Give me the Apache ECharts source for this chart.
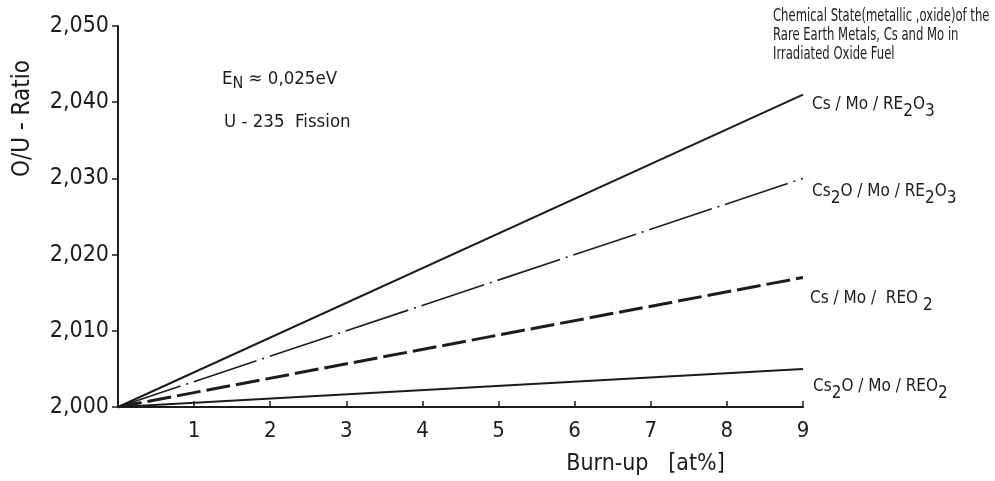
<!DOCTYPE html>
<html>
<head>
<meta charset="utf-8">
<script src="https://cdn.jsdelivr.net/npm/echarts@6/dist/echarts.min.js"></script>
<style>
  html, body { margin: 0; padding: 0; background: #fff; }
  #chart { width: 995px; height: 481px; }
</style>
</head>
<body>
<div id="chart"></div>
<script>
// Burn-up in at% (x) and the O/U ratio reached for each chemical state assumption
const burnup = [0, 9];
const csMoRE2O3 = [2.000, 2.041];
const cs2oMoRE2O3 = [2.000, 2.030];
const csMoREO2 = [2.000, 2.017];
const cs2oMoREO2 = [2.000, 2.005];

// Curve labels in rich-text form (subscripts handled by the "sub" style)
const seriesLabels = [
  '{n|Cs / Mo / RE}{sub|2}{n|O}{sub|3}',
  '{n|Cs}{sub|2}{n|O / Mo / RE}{sub|2}{n|O}{sub|3}',
  '{n|Cs / Mo /  REO }{sub|2}',
  '{n|Cs}{sub|2}{n|O / Mo / REO}{sub|2}'
];

const xTicks = [1, 2, 3, 4, 5, 6, 7, 8, 9];

const FONT = "'DejaVu Sans Condensed', 'Liberation Sans Narrow', 'DejaVu Sans', sans-serif";
const INK = '#1c1c1c';

const richStyles = {
  n: { fontFamily: FONT, fontSize: 17, color: INK },
  sub: { fontFamily: FONT, fontSize: 17, color: INK, padding: [14, 0, 0, 0] }
};

function pairs(ys) {
  return burnup.map((x, i) => [x, ys[i]]);
}

function lineSeries(name, ys, label, style, offset) {
  return {
    name: name,
    type: 'line',
    data: pairs(ys),
    symbol: 'none',
    silent: true,
    lineStyle: Object.assign({ color: INK, width: 2 }, style),
    endLabel: {
      show: true,
      formatter: () => label,
      offset: offset,
      rich: richStyles
    }
  };
}

const chart = echarts.init(document.getElementById('chart'), null, { renderer: 'canvas' });

chart.setOption({
  animation: false,
  backgroundColor: '#ffffff',
  grid: { left: 118, right: 192, top: 26, bottom: 73, containLabel: false },
  xAxis: {
    type: 'value',
    min: 0,
    max: 9,
    interval: 1,
    name: 'Burn-up   [at%]',
    nameLocation: 'middle',
    nameGap: 46,
    nameTextStyle: { fontFamily: FONT, fontSize: 23, color: INK, padding: [0, 0, 0, 370] },
    axisLine: { show: true, lineStyle: { color: INK, width: 2 } },
    axisTick: { show: true, inside: true, length: 6, lineStyle: { color: INK, width: 1.5 } },
    axisLabel: {
      fontFamily: FONT, fontSize: 22, color: INK, margin: 13,
      formatter: v => (xTicks.indexOf(v) >= 0 ? String(v) : '')
    },
    splitLine: { show: false }
  },
  yAxis: {
    type: 'value',
    min: 2.000,
    max: 2.050,
    interval: 0.01,
    name: 'O/U - Ratio',
    nameLocation: 'middle',
    nameRotate: 90,
    nameGap: 95,
    nameTextStyle: { fontFamily: FONT, fontSize: 24, color: INK, padding: [0, 0, 0, 196], align: 'center', verticalAlign: 'middle' },
    axisLine: { show: true, onZero: false, lineStyle: { color: INK, width: 2 } },
    axisTick: { show: true, inside: false, length: 6, lineStyle: { color: INK, width: 1.5 } },
    axisLabel: {
      fontFamily: FONT, fontSize: 23, color: INK, margin: 9,
      formatter: v => v.toFixed(3).replace('.', ',')
    },
    splitLine: { show: false }
  },
  series: [
    lineSeries('Cs/Mo/RE2O3', csMoRE2O3, seriesLabels[0], { type: 'solid', width: 2 }, [1, 10]),
    lineSeries('Cs2O/Mo/RE2O3', cs2oMoRE2O3, seriesLabels[1], { type: [66, 6, 2, 6], width: 1.6 }, [1, 13]),
    lineSeries('Cs/Mo/REO2', csMoREO2, seriesLabels[2], { type: [24, 6], width: 3 }, [-1, 21]),
    lineSeries('Cs2O/Mo/REO2', cs2oMoREO2, seriesLabels[3], { type: 'solid', width: 2 }, [2, 18])
  ],
  graphic: [
    {
      type: 'text',
      x: 773,
      y: 7,
      scaleX: 0.76,
      style: {
        text: 'Chemical State(metallic ,oxide)of the\nRare Earth Metals, Cs and Mo in\nIrradiated Oxide Fuel',
        fontFamily: FONT, fontSize: 17, lineHeight: 19, fill: INK
      }
    },
    {
      type: 'text',
      x: 222,
      y: 66,
      style: {
        text: '{n|E}{sub|N}{n| ≈ 0,025eV}',
        rich: {
          n: { fontFamily: FONT, fontSize: 18.5, fill: INK },
          sub: { fontFamily: FONT, fontSize: 16, fill: INK, padding: [10, 0, 0, 0] }
        }
      }
    },
    {
      type: 'text',
      x: 224,
      y: 113,
      style: {
        text: 'U - 235  Fission',
        fontFamily: FONT, fontSize: 18.5, fill: INK
      }
    }
  ]
});
</script>
</body>
</html>
